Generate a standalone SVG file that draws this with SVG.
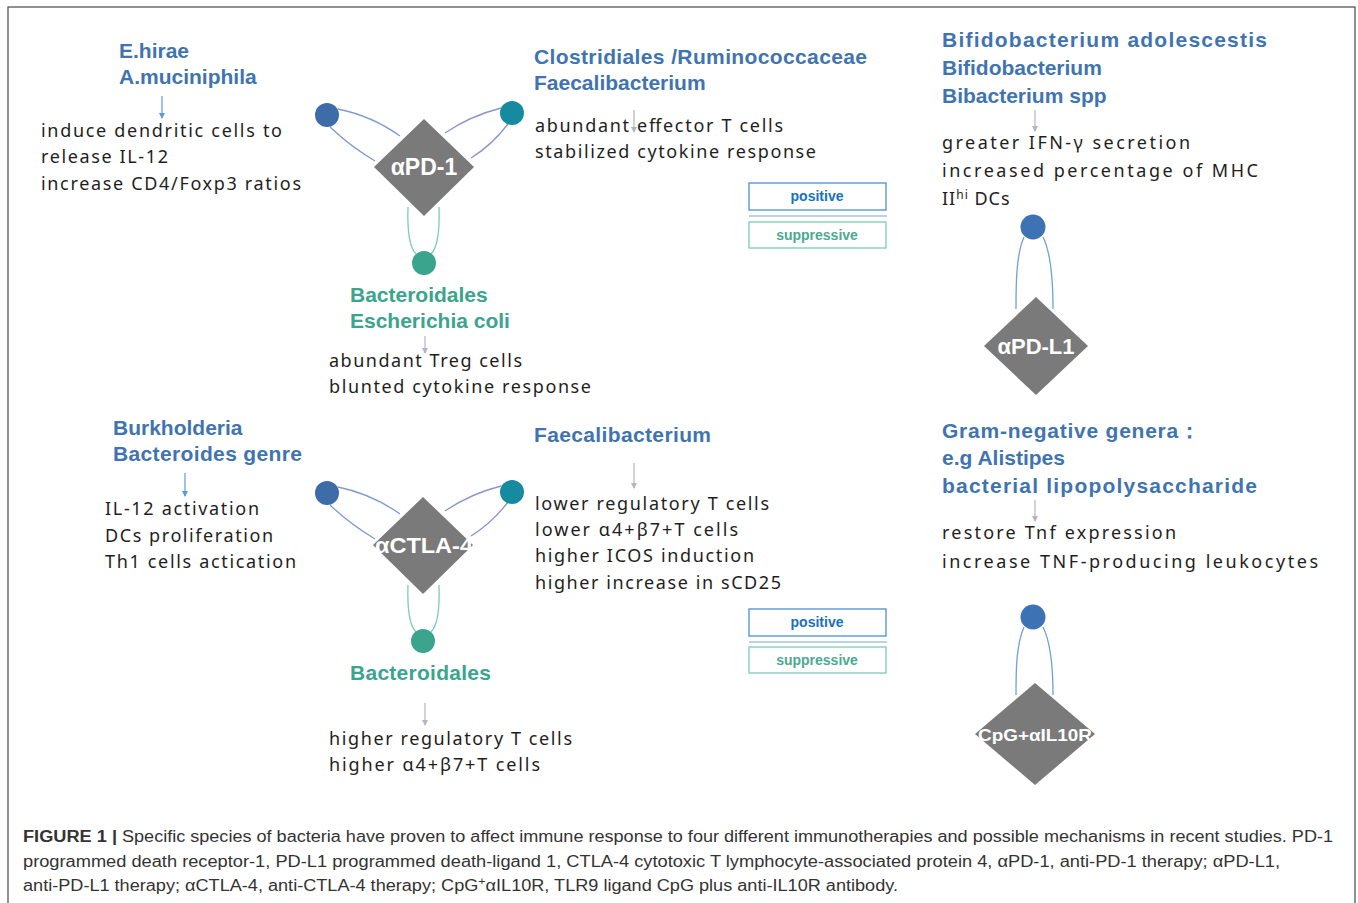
<svg xmlns="http://www.w3.org/2000/svg" width="1358" height="903" viewBox="0 0 1358 903">
<defs>
<style>
.hd{font-family:"Liberation Sans",Arial,sans-serif;font-weight:bold;font-size:21px;fill:#3f74b1}
.hg{font-family:"Liberation Sans",Arial,sans-serif;font-weight:bold;font-size:21px;fill:#3aa58c}
.bd{font-family:"Noto Sans","Open Sans",sans-serif;font-size:18px;fill:#1e1e1e}
.dm{fill:#7a7a7a}
.dt{font-family:"Liberation Sans",Arial,sans-serif;font-weight:bold;fill:#fff;text-anchor:middle}
.cap{font-family:"Liberation Sans",Arial,sans-serif;font-size:16px;fill:#333}
.ln{fill:none;stroke-width:1.3}
.arb{stroke:#5b9bd5;stroke-width:1.2;marker-end:url(#ab)}
.arg{stroke:#b4b4c4;stroke-width:1.2;marker-end:url(#ag)}
.pos{fill:#fff;stroke:#4a8fd6;stroke-width:1.3}
.sup{fill:#fff;stroke:#7ccbb5;stroke-width:1.3}
.pt{font-family:"Liberation Sans",Arial,sans-serif;font-weight:bold;font-size:14px;fill:#1a6fbf;text-anchor:middle}
.st{font-family:"Liberation Sans",Arial,sans-serif;font-weight:bold;font-size:14px;fill:#4aaa90;text-anchor:middle}
</style>
<marker id="ab" markerWidth="6" markerHeight="6" refX="5" refY="3" orient="auto" markerUnits="userSpaceOnUse"><path d="M0,0 L6,3 L0,6 z" fill="#5b9bd5"/></marker>
<marker id="ag" markerWidth="6" markerHeight="6" refX="5" refY="3" orient="auto" markerUnits="userSpaceOnUse"><path d="M0,0 L6,3 L0,6 z" fill="#b4b4c4"/></marker>
</defs>
<rect width="1358" height="903" fill="#fff"/>
<rect x="8" y="7" width="1347" height="910" fill="none" stroke="#555" stroke-width="1.3"/>

<g id="connectors">
<g id="pd1-links">
<path class="ln" stroke="#7f9ad0" d="M338,109 Q372,116 400,136"/>
<path class="ln" stroke="#7f9ad0" d="M330,127 Q350,146 375,161"/>
<path class="ln" stroke="#8a94cc" d="M501,108 Q470,116 445,133"/>
<path class="ln" stroke="#8a94cc" d="M508,124 Q492,145 471,158"/>
<path class="ln" stroke="#7ccbb5" d="M408,207 C407,235 410,248 416,254"/>
<path class="ln" stroke="#7ccbb5" d="M439,207 C440,235 437,248 431,254"/>
</g>
<g id="ctla4-links" transform="translate(0,378)">
<path class="ln" stroke="#7f9ad0" d="M338,109 Q372,116 400,136"/>
<path class="ln" stroke="#7f9ad0" d="M330,127 Q350,146 375,161"/>
<path class="ln" stroke="#8a94cc" d="M501,108 Q470,116 445,133"/>
<path class="ln" stroke="#8a94cc" d="M508,124 Q492,145 471,158"/>
<path class="ln" stroke="#7ccbb5" d="M408,207 C407,235 410,248 416,254"/>
<path class="ln" stroke="#7ccbb5" d="M439,207 C440,235 437,248 431,254"/>
</g>
<path class="ln" stroke="#6fa0d8" d="M1024,237 C1016,255 1016,285 1016,309"/>
<path class="ln" stroke="#6fa0d8" d="M1043,237 C1052,255 1053,285 1053,309"/>
<path class="ln" stroke="#6fa0d8" d="M1024,627 C1016,645 1016,672 1016,695"/>
<path class="ln" stroke="#6fa0d8" d="M1043,627 C1052,645 1053,672 1053,695"/>
<line class="arb" x1="162" y1="96" x2="162" y2="118"/>
<line class="arg" x1="634" y1="110" x2="634" y2="132"/>
<line class="arg" x1="425" y1="336" x2="425" y2="353"/>
<line class="arg" x1="1035" y1="110" x2="1035" y2="131"/>
<line class="arb" x1="185" y1="473" x2="185" y2="496"/>
<line class="arg" x1="634" y1="463" x2="634" y2="488"/>
<line class="arg" x1="425" y1="703" x2="425" y2="725"/>
<line class="arg" x1="1035" y1="500" x2="1035" y2="521"/>
</g>

<g id="pd1">
<polygon class="dm" points="424,119 474,167 424,216 374,167"/>
<text class="dt" x="424" y="175" font-size="23">αPD-1</text>
</g>
<g id="pd1-a"><circle cx="327" cy="115" r="12" fill="#3d6ca8"/></g>
<g id="pd1-b"><circle cx="512" cy="113" r="12" fill="#168a9e"/></g>
<g id="pd1-c"><circle cx="424" cy="263" r="12" fill="#3aa58c"/></g>

<g id="ctla4">
<polygon class="dm" points="423,497 473,545 423,594 373,545"/>
<text class="dt" x="424" y="553" font-size="22" textLength="98" lengthAdjust="spacingAndGlyphs">αCTLA-4</text>
</g>
<g id="ctla4-a"><circle cx="327" cy="493" r="12" fill="#3d6ca8"/></g>
<g id="ctla4-b"><circle cx="512" cy="492" r="12" fill="#168a9e"/></g>
<g id="ctla4-c"><circle cx="423" cy="641" r="12" fill="#3aa58c"/></g>

<g id="pdl1">
<polygon class="dm" points="1036,297 1088,346 1036,395 984,346"/>
<text class="dt" x="1036" y="354" font-size="22">αPD-L1</text>
</g>
<g id="pdl1-a"><circle cx="1033" cy="227" r="12.5" fill="#3d72b4"/></g>

<g id="cpg">
<polygon class="dm" points="1035,683 1095,734 1035,785 975,734"/>
<text class="dt" x="1035" y="741" font-size="17" textLength="114" lengthAdjust="spacingAndGlyphs">CpG+αIL10R</text>
</g>
<g id="cpg-a"><circle cx="1033" cy="617" r="12.5" fill="#3d72b4"/></g>

<g id="t-pd1-left">
<text class="hd" x="119" y="58">E.hirae</text>
<text class="hd" x="119" y="84">A.muciniphila</text>
<text class="bd" x="41" y="137" textLength="241">induce dendritic cells to</text>
<text class="bd" x="41" y="163" textLength="127">release IL-12</text>
<text class="bd" x="41" y="190" textLength="260">increase CD4/Foxp3 ratios</text>
</g>
<g id="t-pd1-right">
<text class="hd" x="534" y="64" textLength="333">Clostridiales /Ruminococcaceae</text>
<text class="hd" x="534" y="90">Faecalibacterium</text>
<text class="bd" x="535" y="132" textLength="248">abundant effector T cells</text>
<text class="bd" x="535" y="158" textLength="281">stabilized cytokine response</text>
</g>
<g id="t-pd1-bottom">
<text class="hg" x="350" y="302">Bacteroidales</text>
<text class="hg" x="350" y="328">Escherichia coli</text>
<text class="bd" x="329" y="367" textLength="193">abundant Treg cells</text>
<text class="bd" x="329" y="393" textLength="262">blunted cytokine response</text>
</g>
<g id="t-pdl1">
<text class="hd" x="942" y="47" textLength="325">Bifidobacterium adolescestis</text>
<text class="hd" x="942" y="75">Bifidobacterium</text>
<text class="hd" x="942" y="103">Bibacterium spp</text>
<text class="bd" x="942" y="149" textLength="248">greater IFN-γ secretion</text>
<text class="bd" x="942" y="177" textLength="316">increased percentage of MHC</text>
<text class="bd" x="942" y="205" letter-spacing="1">II<tspan font-size="12" dy="-6">hi</tspan><tspan dy="6"> DCs</tspan></text>
</g>
<g id="t-ctla4-left">
<text class="hd" x="113" y="435">Burkholderia</text>
<text class="hd" x="113" y="461" textLength="189">Bacteroides genre</text>
<text class="bd" x="105" y="515" textLength="154">IL-12 activation</text>
<text class="bd" x="105" y="542" textLength="168">DCs proliferation</text>
<text class="bd" x="105" y="568" textLength="191">Th1 cells actication</text>
</g>
<g id="t-ctla4-right">
<text class="hd" x="534" y="442" textLength="177">Faecalibacterium</text>
<text class="bd" x="535" y="510" textLength="234">lower regulatory T cells</text>
<text class="bd" x="535" y="536" textLength="203">lower α4+β7+T cells</text>
<text class="bd" x="535" y="562" textLength="219">higher ICOS induction</text>
<text class="bd" x="535" y="589" textLength="246">higher increase in sCD25</text>
</g>
<g id="t-ctla4-bottom">
<text class="hg" x="350" y="680" textLength="141">Bacteroidales</text>
<text class="bd" x="329" y="745" textLength="243">higher regulatory T cells</text>
<text class="bd" x="329" y="771" textLength="211">higher α4+β7+T cells</text>
</g>
<g id="t-cpg">
<text class="hd" x="942" y="438" textLength="258">Gram-negative genera：</text>
<text class="hd" x="942" y="465">e.g Alistipes</text>
<text class="hd" x="942" y="493" textLength="315">bacterial lipopolysaccharide</text>
<text class="bd" x="942" y="539" textLength="234">restore Tnf expression</text>
<text class="bd" x="942" y="568" textLength="376">increase TNF-producing leukocytes</text>
</g>

<g id="legend-1">
<rect class="pos" x="749" y="183" width="137" height="27"/>
<text class="pt" x="817" y="201">positive</text>
<line x1="749" y1="216" x2="887" y2="216" stroke="#a8c0dc" stroke-width="1.3"/>
<rect class="sup" x="749" y="222" width="137" height="26"/>
<text class="st" x="817" y="240">suppressive</text>
</g>
<g id="legend-2">
<rect class="pos" x="749" y="609" width="137" height="27"/>
<text class="pt" x="817" y="627">positive</text>
<line x1="749" y1="642" x2="887" y2="642" stroke="#a8c0dc" stroke-width="1.3"/>
<rect class="sup" x="749" y="647" width="137" height="26"/>
<text class="st" x="817" y="665">suppressive</text>
</g>

<g id="caption">
<text class="cap" x="23" y="842" font-weight="bold" font-size="17" fill="#222" textLength="94" lengthAdjust="spacingAndGlyphs">FIGURE 1 |</text>
<text class="cap" x="122" y="842" textLength="1211" lengthAdjust="spacingAndGlyphs">Specific species of bacteria have proven to affect immune response to four different immunotherapies and possible mechanisms in recent studies. PD-1</text>
<text class="cap" x="23" y="867" textLength="1257" lengthAdjust="spacingAndGlyphs">programmed death receptor-1, PD-L1 programmed death-ligand 1, CTLA-4 cytotoxic T lymphocyte-associated protein 4, αPD-1, anti-PD-1 therapy; αPD-L1,</text>
<text class="cap" x="23" y="891" textLength="875" lengthAdjust="spacingAndGlyphs">anti-PD-L1 therapy; αCTLA-4, anti-CTLA-4 therapy; CpG<tspan font-size="11" dy="-6">+</tspan><tspan dy="6">αIL10R, TLR9 ligand CpG plus anti-IL10R antibody.</tspan></text>
</g>
</svg>
